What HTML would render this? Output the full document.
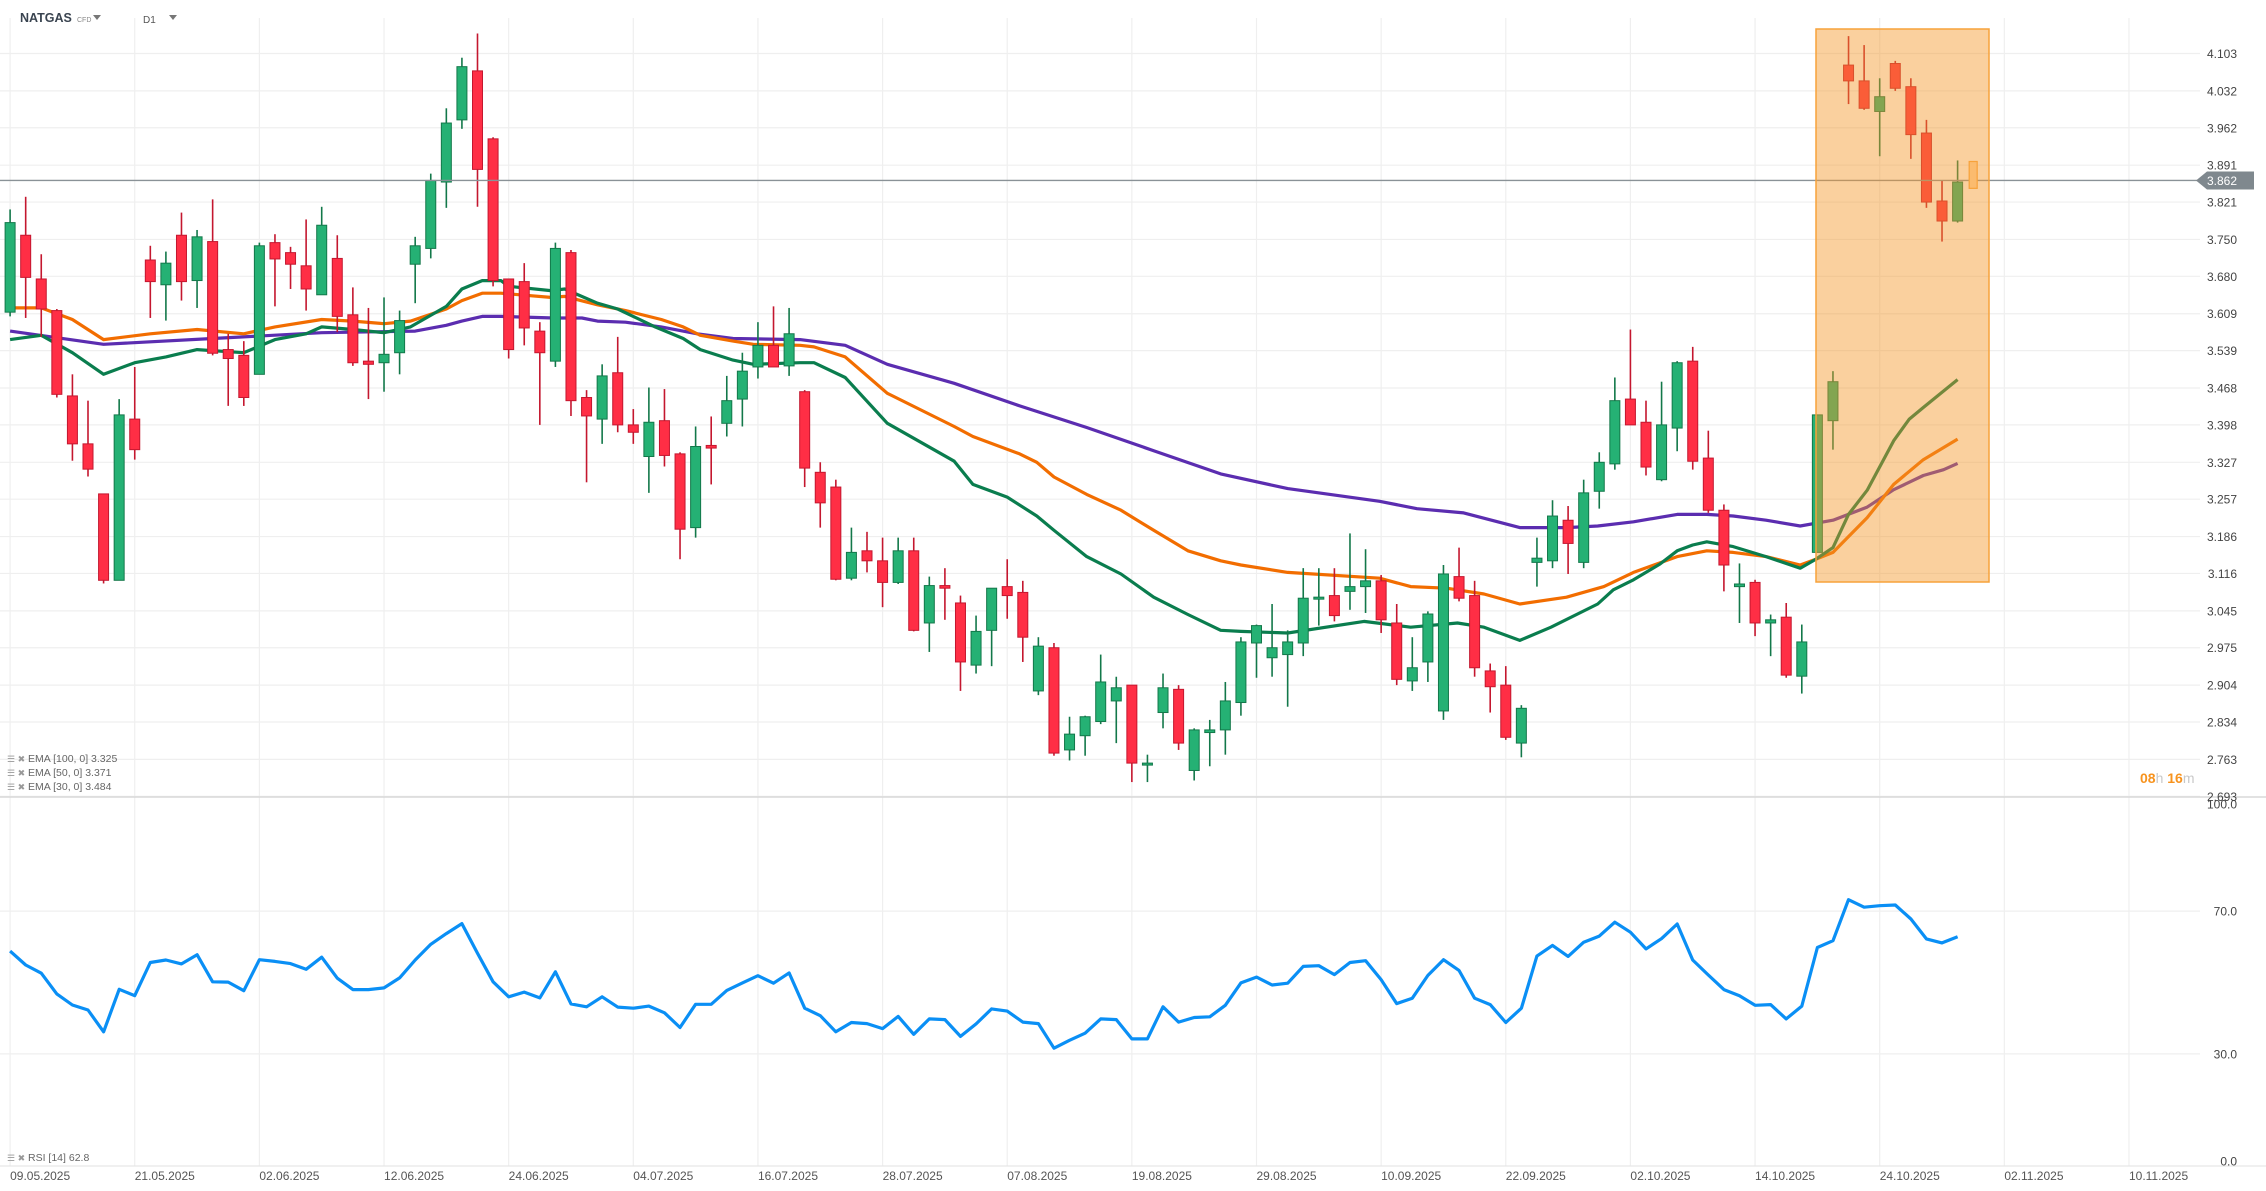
<!DOCTYPE html>
<html><head><meta charset="utf-8"><style>
html,body{margin:0;padding:0;background:#fff;}
svg{display:block;font-family:"Liberation Sans",sans-serif;}
</style></head><body>
<svg id="chart" width="2266" height="1191" viewBox="0 0 2266 1191" xmlns="http://www.w3.org/2000/svg">
<rect x="0" y="0" width="2266" height="1191" fill="#fff"/>
<g id="grid"></g>
<g id="ema"></g>
<g id="candles"></g>
<line x1="0" x2="2200" y1="180.5" y2="180.5" stroke="#8a9297" stroke-width="1.3" id="curline"/>
<g id="overlay"></g>
<g id="rsi"></g>
<g id="axes"></g>
<g>
<text x="20" y="22" font-size="12.5" font-weight="bold" fill="#3a4450">NATGAS</text>
<text x="77" y="22" font-size="7" fill="#888">CFD</text>
<path d="M93 15 L101 15 L97 20 Z" fill="#777"/>
<text x="143" y="23" font-size="10" fill="#555">D1</text>
<path d="M169 15 L177 15 L173 20 Z" fill="#777"/>
</g>
<g font-size="10.5" fill="#666">
<text x="7" y="762" fill="#999" font-size="9">☰ ✖</text>
<text x="28" y="762">EMA [100, 0] 3.325</text>
<text x="7" y="776" fill="#999" font-size="9">☰ ✖</text>
<text x="28" y="776">EMA [50, 0] 3.371</text>
<text x="7" y="790" fill="#999" font-size="9">☰ ✖</text>
<text x="28" y="790">EMA [30, 0] 3.484</text>
<text x="7" y="1161" fill="#999" font-size="9">☰ ✖</text>
<text x="28" y="1161">RSI [14] 62.8</text>
</g>
<g font-size="14" font-weight="bold">
<text x="2140" y="783"><tspan fill="#f7931e">08</tspan><tspan fill="#c8c8c8" font-weight="normal">h </tspan><tspan fill="#f7931e">16</tspan><tspan fill="#c8c8c8" font-weight="normal">m</tspan></text>
</g>
</svg>
<script>
const priceTicks = ["4.103","4.032","3.962","3.891","3.821","3.750","3.680","3.609","3.539","3.468","3.398","3.327","3.257","3.186","3.116","3.045","2.975","2.904","2.834","2.763","2.693"];
const dateLabels = ["09.05.2025","21.05.2025","02.06.2025","12.06.2025","24.06.2025","04.07.2025","16.07.2025","28.07.2025","07.08.2025","19.08.2025","29.08.2025","10.09.2025","22.09.2025","02.10.2025","14.10.2025","24.10.2025","02.11.2025","10.11.2025"];
const rsiTicks = ["100.0","70.0","30.0","0.0"];
const rsiTickValues = [100,70,30,0];
const opens = [3.612,3.758,3.675,3.615,3.453,3.362,3.267,3.103,3.409,3.711,
3.664,3.758,3.672,3.746,3.541,3.530,3.494,3.744,3.725,3.700,
3.645,3.714,3.607,3.519,3.516,3.535,3.703,3.733,3.859,3.977,
4.070,3.941,3.675,3.670,3.576,3.519,3.725,3.450,3.409,3.497,
3.398,3.338,3.406,3.343,3.203,3.359,3.401,3.447,3.508,3.549,
3.510,3.461,3.308,3.280,3.107,3.159,3.140,3.099,3.159,3.022,
3.093,3.060,2.942,3.008,3.091,3.080,2.893,2.975,2.781,2.808,
2.835,2.874,2.904,2.753,2.852,2.896,2.742,2.814,2.819,2.871,
2.984,2.956,2.962,2.984,3.069,3.074,3.082,3.091,3.102,3.022,
2.912,2.948,2.855,3.110,3.074,2.931,2.904,2.794,3.137,3.140,
3.217,3.137,3.272,3.324,3.447,3.403,3.294,3.392,3.519,3.335,
3.236,3.091,3.099,3.022,3.033,2.921,3.156,3.406,4.081,4.051,
3.993,4.084,4.040,3.952,3.823,3.785];
const highs = [3.807,3.831,3.722,3.618,3.494,3.444,3.267,3.447,3.508,3.738,
3.727,3.801,3.768,3.826,3.571,3.557,3.744,3.760,3.736,3.788,
3.812,3.758,3.659,3.620,3.640,3.615,3.755,3.875,3.999,4.095,
4.141,3.944,3.675,3.705,3.593,3.744,3.730,3.464,3.513,3.565,
3.428,3.469,3.466,3.346,3.395,3.414,3.491,3.535,3.593,3.623,
3.620,3.464,3.327,3.294,3.203,3.195,3.184,3.184,3.184,3.110,
3.126,3.074,3.036,3.088,3.143,3.102,2.995,2.984,2.844,2.846,
2.962,2.920,2.904,2.772,2.926,2.904,2.822,2.838,2.910,2.995,
3.019,3.058,3.008,3.126,3.126,3.126,3.192,3.162,3.113,3.058,
2.995,3.044,3.132,3.165,3.102,2.945,2.940,2.866,3.184,3.255,
3.244,3.294,3.346,3.488,3.579,3.444,3.480,3.519,3.546,3.387,
3.247,3.135,3.104,3.038,3.060,3.019,3.417,3.500,4.136,4.119,
4.056,4.089,4.056,3.977,3.862,3.900];
const lows = [3.604,3.601,3.565,3.450,3.330,3.300,3.097,3.103,3.332,3.601,
3.596,3.634,3.620,3.530,3.434,3.434,3.494,3.623,3.656,3.615,
3.645,3.574,3.510,3.447,3.461,3.494,3.629,3.714,3.810,3.960,
3.812,3.661,3.524,3.549,3.398,3.508,3.415,3.289,3.362,3.384,
3.362,3.269,3.319,3.143,3.184,3.285,3.376,3.395,3.486,3.508,
3.491,3.280,3.203,3.103,3.103,3.118,3.052,3.096,3.006,2.967,
3.028,2.893,2.926,2.940,3.030,2.948,2.885,2.770,2.761,2.770,
2.830,2.794,2.720,2.720,2.822,2.781,2.723,2.750,2.772,2.846,
2.918,2.920,2.863,2.959,3.017,3.025,3.047,3.041,3.003,2.904,
2.893,2.910,2.838,3.063,2.920,2.852,2.800,2.767,3.091,3.126,
3.115,3.126,3.239,3.313,3.398,3.302,3.291,3.348,3.313,3.231,
3.082,3.022,2.997,2.959,2.918,2.888,3.156,3.351,4.007,3.996,
3.908,4.032,3.903,3.810,3.746,3.782];
const closes = [3.782,3.678,3.618,3.456,3.362,3.314,3.103,3.417,3.351,3.670,
3.705,3.670,3.755,3.534,3.524,3.450,3.738,3.713,3.703,3.656,
3.777,3.604,3.516,3.513,3.532,3.596,3.738,3.862,3.971,4.078,
3.883,3.672,3.541,3.582,3.535,3.733,3.444,3.415,3.491,3.398,
3.384,3.403,3.340,3.200,3.357,3.354,3.444,3.500,3.549,3.508,
3.571,3.316,3.250,3.105,3.156,3.140,3.099,3.159,3.008,3.093,
3.088,2.948,3.006,3.088,3.074,2.995,2.978,2.775,2.811,2.844,
2.910,2.899,2.756,2.756,2.899,2.794,2.819,2.819,2.874,2.986,
3.017,2.975,2.986,3.069,3.071,3.036,3.091,3.102,3.028,2.915,
2.937,3.039,3.115,3.069,2.937,2.901,2.805,2.860,3.145,3.225,
3.173,3.269,3.327,3.444,3.398,3.318,3.398,3.516,3.329,3.236,
3.132,3.096,3.022,3.028,2.923,2.986,3.417,3.480,4.051,3.999,
4.021,4.037,3.949,3.821,3.785,3.859];
const liveCandle = [3.859,3.898,3.847,3.898];
const currentPrice = 3.862;
const rsiValues = [58.8,54.9,52.6,46.8,43.7,42.3,36.2,48.1,46.3,55.6,56.3,55.2,57.8,50.2,50.1,47.7,56.4,55.9,55.3,53.7,57.1,51.2,48.0,48.0,48.5,51.3,56.3,60.7,63.7,66.5,58.2,50.2,46.0,47.3,45.7,53.0,44.0,43.2,46.0,
43.1,42.8,43.4,41.5,37.4,43.9,43.9,47.8,49.9,51.9,49.8,52.7,42.8,40.7,36.2,38.8,38.5,37.1,40.5,35.5,39.8,39.6,34.9,38.4,42.6,42.0,38.9,38.5,31.6,33.8,35.8,39.8,39.6,34.2,34.2,43.2,38.9,40.2,40.4,43.6,49.9,51.5,49.3,
49.8,54.5,54.7,52.2,55.6,56.1,50.8,44.1,45.6,52.0,56.4,53.4,45.6,43.8,38.8,42.8,57.4,60.4,57.3,61.3,63.0,66.9,64.1,59.4,62.3,66.4,56.3,52.1,48.0,46.3,43.6,43.8,39.8,43.4,59.8,61.7,73.2,71.1,71.5,71.7,67.8,62.2,61.1,62.8];
const ema100Idx = [0,6,13,20,26,28,29,30.3,31.5,34.9,36.7,37.7,39.5,41.8,44.1,46.4,50.7,53.6,56.3,60.6,64.8,69.1,73.4,77.7,82,87.9,90.3,93.3,96.9,99.9,101.9,104.2,107,108.9,110.6,112.7,114.9,117,119.2,120.9,122.8,124.1,125];
const ema100Val = [3.576,3.551,3.562,3.573,3.576,3.587,3.595,3.604,3.604,3.601,3.601,3.595,3.593,3.584,3.571,3.562,3.560,3.549,3.513,3.477,3.434,3.393,3.349,3.305,3.277,3.253,3.239,3.231,3.203,3.203,3.206,3.214,3.228,3.228,3.225,3.217,3.206,3.217,3.242,3.275,3.302,3.313,3.325];
const ema50Idx = [0,2,4,6,9,12,15,17,20,22,24,25.7,28,29,30.3,31.5,34.7,35.6,37.7,39.5,41.8,43.2,44.3,46.4,47.7,50.7,51.6,53.6,56.3,60.6,61.8,64.8,65.9,67,69.1,71.3,73.4,75.6,77.7,79,82,87.9,89.9,92.2,94.6,96.9,99.9,102.3,104.2,107,108.9,110.6,112.7,114.9,115.9,117,118.1,119.2,120.9,122.8,125];
const ema50Val = [3.620,3.620,3.598,3.560,3.571,3.579,3.571,3.584,3.598,3.595,3.590,3.595,3.618,3.634,3.648,3.648,3.640,3.642,3.626,3.615,3.598,3.584,3.568,3.557,3.551,3.549,3.546,3.527,3.458,3.395,3.376,3.343,3.327,3.299,3.266,3.236,3.198,3.159,3.140,3.132,3.118,3.107,3.091,3.088,3.077,3.058,3.071,3.091,3.118,3.148,3.159,3.156,3.148,3.132,3.143,3.156,3.189,3.222,3.285,3.332,3.371];
const ema30Idx = [0,2,4,6,8,10,12,15,17,19,20,22,24,25.7,28,29,30.3,31.5,32,34.7,35.6,37.7,39,41.4,43.2,44.3,46.4,47.7,50.7,51.6,53.6,56.3,60.6,61.8,64,65.9,67,69.1,71.3,73.4,75.6,77.7,79,82,86.9,89.9,92.9,94.6,96.9,98.9,101.9,102.9,104.2,105.9,107,108,108.9,110.6,112.7,114.9,115.9,117,118,119.2,120.9,121.9,122.8,125];
const ema30Val = [3.560,3.568,3.535,3.494,3.516,3.527,3.541,3.535,3.560,3.571,3.584,3.579,3.573,3.584,3.623,3.656,3.672,3.672,3.661,3.653,3.656,3.629,3.618,3.584,3.562,3.541,3.521,3.513,3.516,3.516,3.488,3.401,3.329,3.285,3.261,3.225,3.198,3.148,3.115,3.071,3.038,3.008,3.006,3.003,3.025,3.014,3.022,3.014,2.989,3.014,3.058,3.085,3.104,3.134,3.159,3.170,3.176,3.167,3.148,3.126,3.143,3.165,3.228,3.274,3.368,3.409,3.431,3.484];

const NS = "http://www.w3.org/2000/svg";
const P_TOP = 4.103, P_Y0 = 53.5, P_SCALE = 526.8;
const yP = p => P_Y0 + (P_TOP - p) * P_SCALE;
const xI = i => 10.1 + 15.58 * i;
const yR = v => 804 + (100 - v) * 3.57;
function mk(tag, attrs, parent) {
  const el = document.createElementNS(NS, tag);
  for (const k in attrs) el.setAttribute(k, attrs[k]);
  parent.appendChild(el);
  return el;
}
const grid = document.getElementById('grid');
const axes = document.getElementById('axes');
priceTicks.forEach(t => {
  const y = yP(parseFloat(t));
  const ln = mk('line', {x1: 0, x2: 2200, y1: y, y2: y, stroke: '#efefef', 'stroke-width': 1.2}, grid);
  
  
  const tx = mk('text', {x: 2237, y: y + 4.5, 'text-anchor': 'end', 'font-size': 12, fill: '#444'}, axes);
  tx.textContent = t;
  
  
});
dateLabels.forEach((d, k) => {
  const x = xI(k * 8);
  const ln = mk('line', {x1: x, x2: x, y1: 18, y2: 1166, stroke: '#efefef', 'stroke-width': 1.2}, grid);
  
  
  const tx = mk('text', {x: x, y: 1180, 'font-size': 12, fill: '#555'}, axes);
  tx.textContent = d;
  
  
});
let sep = mk('line', {x1: 0, x2: 2266, y1: 797, y2: 797, stroke: '#d8d8d8', 'stroke-width': 1.5}, grid);


let bot = mk('line', {x1: 0, x2: 2266, y1: 1166, y2: 1166, stroke: '#e6e6e6', 'stroke-width': 1.2}, grid);


rsiTickValues.forEach((v, k) => {
  const y = yR(v);
  if (v === 70 || v === 30) {
    const ln = mk('line', {x1: 0, x2: 2200, y1: y, y2: y, stroke: '#efefef', 'stroke-width': 1.2}, grid);
    
    
  }
  const tx = mk('text', {x: 2237, y: y + 4.5, 'text-anchor': 'end', 'font-size': 12, fill: '#444'}, axes);
  tx.textContent = rsiTicks[k];
  
  
});
const emaG = document.getElementById('ema');
function emaLine(idx, vals, color, name) {
  const pts = idx.map((i, k) => xI(i).toFixed(1) + ',' + yP(vals[k]).toFixed(1)).join(' ');
  const pl = mk('polyline', {points: pts, fill: 'none', stroke: color, 'stroke-width': 3.2, 'stroke-linejoin': 'round'}, emaG);
  
  
}
emaLine(ema100Idx, ema100Val, '#5b2db0', 'ema-100-line');
emaLine(ema50Idx, ema50Val, '#f26d00', 'ema-50-line');
emaLine(ema30Idx, ema30Val, '#0a7d4e', 'ema-30-line');
const cg = document.getElementById('candles');
opens.forEach((o, i) => {
  const c = closes[i], h = highs[i], l = lows[i];
  const up = c >= o;
  const fill = up ? '#25b174' : '#ff2e45';
  const edge = up ? '#13784a' : '#c4172f';
  const x = xI(i);
  const w = mk('line', {x1: x, x2: x, y1: yP(h), y2: yP(l), stroke: edge, 'stroke-width': 1.6}, cg);
  
  
  const top = yP(Math.max(o, c)), bt = yP(Math.min(o, c));
  const b = mk('rect', {x: x - 5, y: top, width: 10, height: Math.max(2, bt - top), fill: fill, stroke: edge, 'stroke-width': 1}, cg);
  
  
});
document.getElementById('curline').setAttribute('y1', yP(currentPrice));
document.getElementById('curline').setAttribute('y2', yP(currentPrice));
const ov = document.getElementById('overlay');
const box = mk('rect', {x: 1816, y: 29, width: 173, height: 553, fill: 'rgba(245,150,40,0.45)', stroke: '#f7a23a', 'stroke-width': 1.5}, ov);


{
  const i = opens.length;
  const x = xI(i);
  const lc = mk('rect', {x: x - 4, y: yP(liveCandle[3]), width: 8, height: yP(liveCandle[2]) - yP(liveCandle[3]), fill: '#fbbb6e', stroke: '#f7a23a', 'stroke-width': 1.2}, ov);
  
  
}
{
  const y = yP(currentPrice);
  const tag = mk('path', {d: `M2196 ${y} L2207 ${y-9} L2254 ${y-9} L2254 ${y+9} L2207 ${y+9} Z`, fill: '#7f888e'}, axes);
  
  
  const tt = mk('text', {x: 2237, y: y + 4.5, 'text-anchor': 'end', 'font-size': 12, fill: '#fff'}, axes);
  tt.textContent = currentPrice.toFixed(3);
  
  
}
const rg = document.getElementById('rsi');
const rpts = rsiValues.map((v, i) => xI(i).toFixed(1) + ',' + yR(v).toFixed(1)).join(' ');
const rl = mk('polyline', {points: rpts, fill: 'none', stroke: '#0a8ff5', 'stroke-width': 3.2, 'stroke-linejoin': 'round'}, rg);


</script>
</body></html>
